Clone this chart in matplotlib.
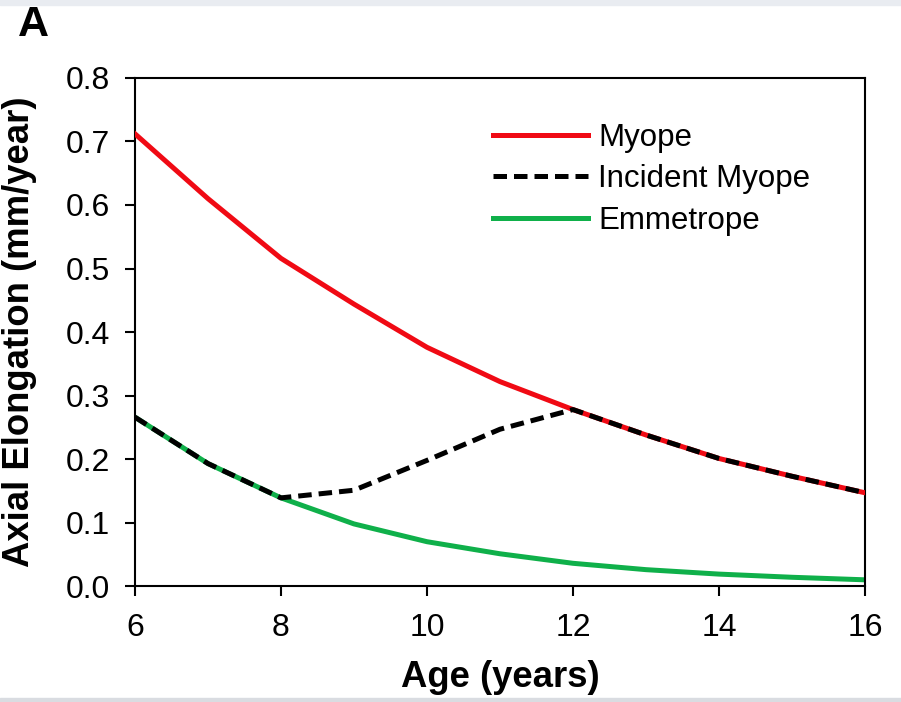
import matplotlib
matplotlib.use('Agg')
import matplotlib.pyplot as plt
from matplotlib.patches import Rectangle

plt.rcParams['font.family'] = ['Liberation Sans', 'DejaVu Sans']

# values
ages = [6, 7, 8, 9, 10, 11, 12, 13, 14, 15, 16]
myope = [0.712, 0.610, 0.516, 0.444, 0.376, 0.322, 0.278, 0.238, 0.201, 0.173, 0.147]
incident_myope = [0.266, 0.193, 0.139, 0.151, 0.198, 0.247, 0.278, 0.238, 0.201, 0.173, 0.147]
emmetrope = [0.266, 0.193, 0.139, 0.098, 0.070, 0.051, 0.036, 0.026, 0.019, 0.014, 0.010]

x_ticks = [6, 8, 10, 12, 14, 16]
y_ticks = [0.0, 0.1, 0.2, 0.3, 0.4, 0.5, 0.6, 0.7, 0.8]

fig = plt.figure(figsize=(9.01, 7.02), dpi=100)
# light grey border strips of the screenshot
fig.patches.append(Rectangle((0, 0.993), 1, 0.007, transform=fig.transFigure,
                             color='#e9ecf1', zorder=0))
fig.patches.append(Rectangle((0, 0), 1, 0.005, transform=fig.transFigure,
                             color='#d9dce1', zorder=0))

ax = fig.add_axes([0.1498, 0.165, 0.8102, 0.724])

ax.plot(ages, emmetrope, color='#0FB04A', lw=3.6, label='Emmetrope', zorder=2)
ax.plot(ages, myope, color='#F00A14', lw=3.6, label='Myope', zorder=3)
ax.plot(ages, incident_myope, color='black', lw=3.6, dashes=(2.7, 1.4),
        label='Incident Myope', zorder=4)

ax.set_xlim(6, 16)
ax.set_ylim(0, 0.8)
ax.set_xticks(x_ticks)
ax.set_yticks(y_ticks)
ax.set_yticklabels([f'{v:.1f}' for v in y_ticks])
ax.tick_params(direction='out', length=7, width=1.5, labelsize=23)
ax.tick_params(axis='y', pad=11)
ax.tick_params(axis='x', pad=12)
for s in ax.spines.values():
    s.set_linewidth(1.5)

ax.set_xlabel('Age (years)', fontsize=26.3, fontweight='bold')
ax.set_ylabel('Axial Elongation (mm/year)', fontsize=26.3, fontweight='bold')
ax.xaxis.set_label_coords(0.5, -0.145)
ax.yaxis.set_label_coords(-0.134, 0.5)

handles, labels = ax.get_legend_handles_labels()
order = [1, 2, 0]
ax.legend([handles[i] for i in order], [labels[i] for i in order],
          loc='upper left', bbox_to_anchor=(0.4904, 0.912), frameon=False,
          fontsize=22.5, handlelength=3.04, handletextpad=0.32, labelspacing=0.37,
          borderpad=0, borderaxespad=0)

fig.text(0.02, 0.9487, 'A', fontsize=31, fontweight='bold', va='baseline')

fig.savefig('out.png', dpi=100)
